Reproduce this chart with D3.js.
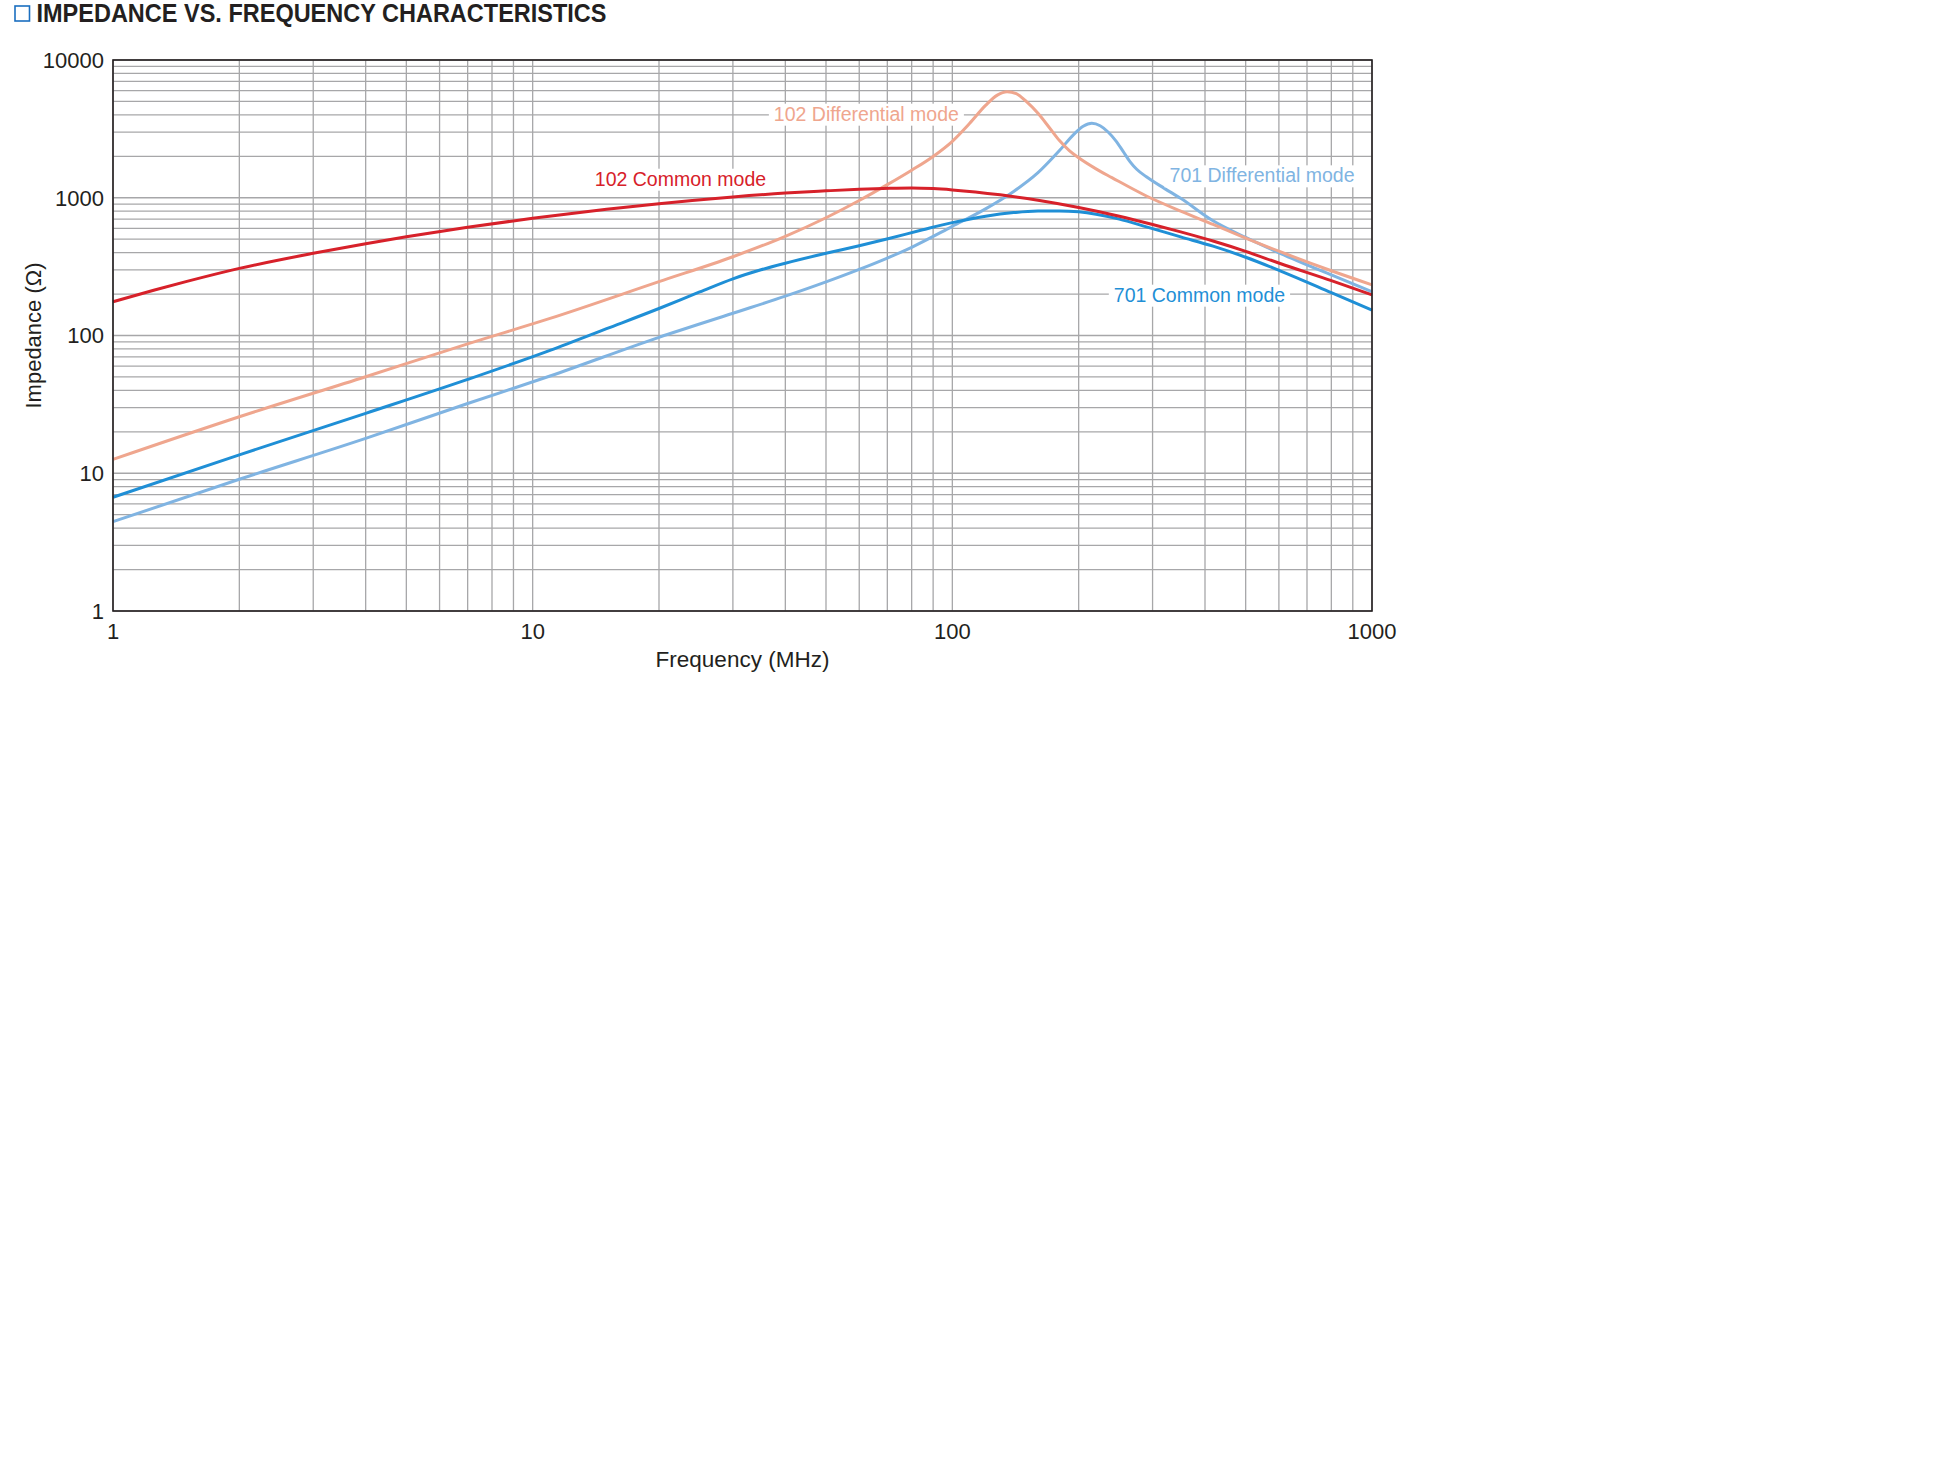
<!DOCTYPE html>
<html>
<head>
<meta charset="utf-8">
<script src="https://cdn.jsdelivr.net/npm/d3@7/dist/d3.min.js"></script>
<style>
  html, body { margin: 0; padding: 0; background: #ffffff; }
  svg { display: block; }
  text { font-family: "Liberation Sans", Arial, Helvetica, sans-serif; }
</style>
</head>
<body>
<svg id="chart" width="1944" height="1464"></svg>
<script>
// ---------------- DATA ----------------
const titleText = "IMPEDANCE VS. FREQUENCY CHARACTERISTICS";
const xTitle = "Frequency (MHz)";
const yTitle = "Impedance (\u03A9)";
const freqTicks = [1, 10, 100, 1000];
const impTicks = [1, 10, 100, 1000, 10000];

// 102 Common mode
const cm102Freq = [1, 1.25, 1.5, 2, 3, 4, 5, 7, 10, 15, 20, 30, 40, 50, 60, 71, 80, 90, 100, 130, 160, 200, 250, 300, 350, 418, 500, 604, 800, 1000];
const cm102Imp  = [176, 213, 247, 307, 395, 464, 521, 611, 710, 824, 906, 1014, 1081, 1122, 1153, 1172, 1178, 1165, 1140, 1050, 960, 850, 735, 640, 565, 485, 408, 333, 250, 197];

// 102 Differential mode
const dm102Freq = [1, 2, 4, 7, 11, 20, 30, 40, 50, 60, 70, 80, 90, 100, 110, 120, 128, 135, 142, 150, 160, 170, 180, 190, 200, 220, 240, 290, 350, 418, 500, 604, 800, 1000];
const dm102Imp  = [12.6, 25.7, 50.2, 87, 133, 246, 373, 525, 716, 955, 1245, 1585, 1995, 2570, 3470, 4680, 5560, 5890, 5690, 5000, 4100, 3250, 2600, 2200, 1950, 1620, 1400, 1030, 800, 640, 510, 406, 295, 233];

// 701 Common mode
const cm701Freq = [1, 2, 4, 7, 11, 15, 20, 25, 30, 35, 40, 50, 60, 71, 85, 100, 120, 140, 160, 180, 200, 220, 250, 290, 350, 418, 500, 604, 800, 1000];
const cm701Imp  = [6.69, 13.6, 27.2, 48, 78, 112, 157, 207, 258, 300, 335, 395, 448, 508, 585, 660, 735, 780, 800, 803, 790, 760, 700, 615, 520, 445, 370, 295, 205, 153];

// 701 Differential mode
const dm701Freq = [1, 2, 4, 7, 11, 20, 30, 40, 50, 60, 70, 80, 100, 120, 140, 160, 180, 195, 205, 215, 225, 235, 245, 255, 265, 275, 290, 320, 350, 418, 500, 604, 800, 1000];
const dm701Imp  = [4.45, 9.04, 17.9, 32.1, 50.8, 97, 145, 193, 245, 302, 365, 437, 620, 830, 1110, 1520, 2200, 2900, 3300, 3470, 3330, 3000, 2600, 2180, 1830, 1610, 1420, 1170, 990, 680, 515, 395, 275, 208];

const seriesNames = ["102 Common mode", "102 Differential mode", "701 Common mode", "701 Differential mode"];
// label anchor points in data space (frequency, impedance)
const labelFreq = [22.5, 62.4, 388, 547];
const labelImp  = [1223, 3626, 176, 1294];

// ---------------- STYLE / LAYOUT ----------------
const colors = ["#d7212a", "#efa68e", "#1f8fd6", "#80b4e2"];
const inkColor = "#231f20";
const gridColor = "#a7a7a9";
const plot = { left: 113, right: 1372, top: 60, bottom: 611 };

const svg = d3.select("#chart");

const x = d3.scaleLog().domain([1, 1000]).range([plot.left, plot.right]);
const y = d3.scaleLog().domain([1, 10000]).range([plot.bottom, plot.top]);

// ---------- Title ----------
svg.append("rect")
  .attr("x", 15).attr("y", 6).attr("width", 14.5).attr("height", 15)
  .attr("fill", "none").attr("stroke", "#1b6fc0").attr("stroke-width", 1.6);
svg.append("text")
  .attr("x", 36.5).attr("y", 21.5)
  .attr("font-size", 25).attr("font-weight", "bold")
  .attr("fill", inkColor)
  .attr("textLength", 570).attr("lengthAdjust", "spacingAndGlyphs")
  .text(titleText);

// ---------- Grid ----------
const xGrid = [];
for (let d = 1; d < 1000; d *= 10) for (let m = 1; m <= 9; m++) xGrid.push(d * m);
xGrid.push(1000);
const yGrid = [];
for (let d = 1; d < 10000; d *= 10) for (let m = 1; m <= 9; m++) yGrid.push(d * m);
yGrid.push(10000);

const grid = svg.append("g");
grid.selectAll("line.vx").data(xGrid).join("line")
  .attr("x1", d => x(d)).attr("x2", d => x(d))
  .attr("y1", plot.top).attr("y2", plot.bottom)
  .attr("stroke", gridColor).attr("stroke-width", 1.3);
grid.selectAll("line.hy").data(yGrid).join("line")
  .attr("y1", d => y(d)).attr("y2", d => y(d))
  .attr("x1", plot.left).attr("x2", plot.right)
  .attr("stroke", gridColor).attr("stroke-width", 1.3);

// ---------- Curves ----------
const line = d3.line()
  .x(d => x(d[0])).y(d => y(d[1]))
  .curve(d3.curveMonotoneX);

const seriesData = [
  d3.zip(cm102Freq, cm102Imp),
  d3.zip(dm102Freq, dm102Imp),
  d3.zip(cm701Freq, cm701Imp),
  d3.zip(dm701Freq, dm701Imp)
];
const drawOrder = [3, 1, 2, 0];
const curves = svg.append("g");
drawOrder.forEach(i => {
  curves.append("path")
    .datum(seriesData[i])
    .attr("d", line)
    .attr("fill", "none")
    .attr("stroke", colors[i])
    .attr("stroke-width", 3)
    .attr("stroke-linejoin", "round");
});

// ---------- Series labels with white background ----------
const labels = svg.append("g");
seriesNames.forEach((name, i) => {
  const g = labels.append("g");
  const t = g.append("text")
    .attr("x", x(labelFreq[i])).attr("y", y(labelImp[i]))
    .attr("text-anchor", "middle")
    .attr("font-size", 19.5)
    .attr("fill", colors[i])
    .text(name);
  const bb = t.node().getBBox();
  g.insert("rect", "text")
    .attr("x", bb.x - 5).attr("y", bb.y + 1)
    .attr("width", bb.width + 10).attr("height", bb.height)
    .attr("fill", "#ffffff");
});

// ---------- Frame ----------
svg.append("rect")
  .attr("x", plot.left).attr("y", plot.top)
  .attr("width", plot.right - plot.left).attr("height", plot.bottom - plot.top)
  .attr("fill", "none").attr("stroke", inkColor).attr("stroke-width", 1.6);

// ---------- Axes labels ----------
const fmt = d3.format("d");
svg.append("g").selectAll("text").data(impTicks).join("text")
  .attr("x", 104).attr("y", d => y(d))
  .attr("dy", "0.36em")
  .attr("text-anchor", "end")
  .attr("font-size", 22)
  .attr("fill", inkColor)
  .text(d => fmt(d));

svg.append("g").selectAll("text").data(freqTicks).join("text")
  .attr("x", d => x(d)).attr("y", 639)
  .attr("text-anchor", "middle")
  .attr("font-size", 22)
  .attr("fill", inkColor)
  .text(d => fmt(d));

svg.append("text")
  .attr("x", (plot.left + plot.right) / 2).attr("y", 667)
  .attr("text-anchor", "middle")
  .attr("font-size", 22.5)
  .attr("fill", inkColor)
  .text(xTitle);

svg.append("text")
  .attr("transform", `translate(41, ${(plot.top + plot.bottom) / 2}) rotate(-90)`)
  .attr("text-anchor", "middle")
  .attr("font-size", 22)
  .attr("fill", inkColor)
  .text(yTitle);
</script>
</body>
</html>
